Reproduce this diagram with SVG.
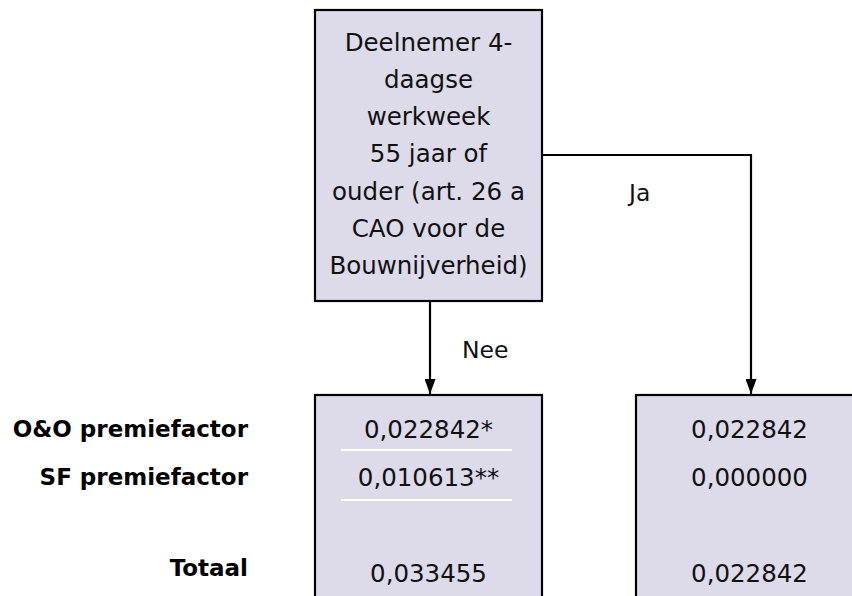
<svg xmlns="http://www.w3.org/2000/svg" width="852" height="596" viewBox="0 0 852 596">
<style>
.box{fill:#dddaea;stroke:#000;stroke-width:2.2}
.t{font-family:"DejaVu Sans",Verdana,sans-serif;font-size:24.5px;fill:#111;text-anchor:middle}
.lbl{font-family:"DejaVu Sans",Verdana,sans-serif;font-size:23px;font-weight:bold;fill:#000;text-anchor:end}
.c{font-family:"DejaVu Sans",Verdana,sans-serif;font-size:23.5px;fill:#111}
.ln{fill:none;stroke:#000;stroke-width:2.2}
.sep{stroke:#fff;stroke-width:2}
</style>
<defs>
<marker id="ah" markerWidth="15" markerHeight="11" refX="15" refY="5.5" orient="auto" markerUnits="userSpaceOnUse" viewBox="0 0 15 11">
<path d="M0,0 L15,5.5 L0,11 Z" fill="#000"/>
</marker>
</defs>
<rect width="852" height="596" fill="#fff"/>
<g id="question">
<rect class="box" x="315" y="10" width="227" height="291"/>
<text class="t" x="428.5" y="51">Deelnemer 4-</text>
<text class="t" x="428.5" y="88">daagse</text>
<text class="t" x="428.5" y="125">werkweek</text>
<text class="t" x="428.5" y="162">55 jaar of</text>
<text class="t" x="428.5" y="199.5">ouder (art. 26 a</text>
<text class="t" x="428.5" y="236.5">CAO voor de</text>
<text class="t" x="428.5" y="273.5">Bouwnijverheid)</text>
</g>
<g id="labels">
<text class="lbl" x="248" y="437">O&amp;O premiefactor</text>
<text class="lbl" x="248" y="485">SF premiefactor</text>
<text class="lbl" x="248" y="576">Totaal</text>
</g>
<g id="nee-box">
<rect class="box" x="315" y="395" width="227" height="220"/>
<text class="t" x="428.5" y="438">0,022842*</text>
<line class="sep" x1="341" y1="450" x2="512" y2="450"/>
<text class="t" x="428.5" y="486">0,010613**</text>
<line class="sep" x1="341" y1="500" x2="512" y2="500"/>
<text class="t" x="428.5" y="582">0,033455</text>
</g>
<g id="ja-box">
<rect class="box" x="636" y="395" width="227" height="220"/>
<text class="t" x="749.5" y="438">0,022842</text>
<text class="t" x="749.5" y="486">0,000000</text>
<text class="t" x="749.5" y="582">0,022842</text>
</g>
<g id="connectors">
<polyline class="ln" points="430,301 430,394" marker-end="url(#ah)"/>
<polyline class="ln" points="542,155 751,155 751,394" marker-end="url(#ah)"/>
<text class="c" x="462" y="358">Nee</text>
<text class="c" x="629" y="201">Ja</text>
</g>
</svg>
